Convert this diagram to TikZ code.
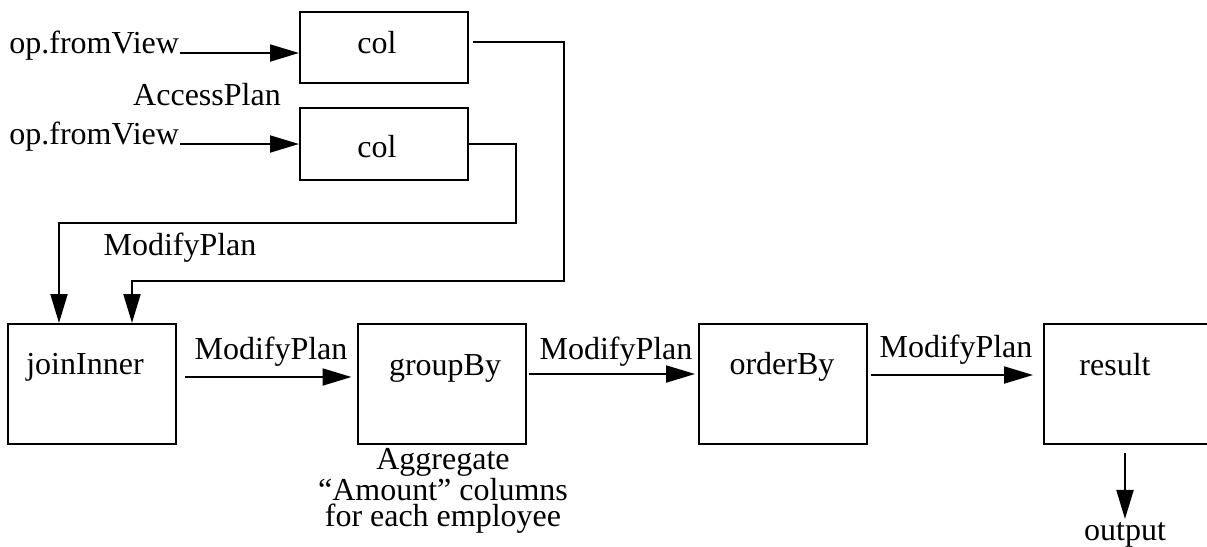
\documentclass[tikz,border=0pt]{standalone}
\usepackage{fontspec}
\setmainfont{Liberation Serif}
\usetikzlibrary{arrows.meta,calc}
\begin{document}
\begin{tikzpicture}[x=0.5pt,y=-0.5pt,
  line width=1pt,
  box/.style={draw, line width=1pt, minimum width=84pt, minimum height=60pt, inner sep=0pt},
  txt/.style={font=\fontsize{16}{13}\selectfont, inner sep=0pt},
  arr/.style={-{Triangle[length=14.5pt,width=8.5pt]}, line width=1pt},
]
\useasboundingbox (0,0) rectangle (1207,547);
% top boxes
\node[box, minimum height=35.5pt] (col1) at (384,47.5) {};
\node[box, minimum height=36pt] (col2) at (384,144) {};
\node[txt] (col1t) at (377,43) {col};
\node[txt] (col2t) at (377,147) {col};
% inputs
\node[txt, anchor=base east] (opA) at (180,53) {op.fromView};
\node[txt, anchor=base east] (opB) at (180,144) {op.fromView};
\node[txt] (access) at (207,95) {AccessPlan};
\draw[arr] (opA.base east) -- (opA.base east -| col1.west);
\draw[arr] (opB.base east) -- (opB.base east -| col2.west);
% bottom boxes
\node[box] (join) at (92,384) {};
\node[box] (group) at (441.5,384) {};
\node[box] (order) at (783,384) {};
\node[box] (result) at (1128,384) {};
\node[txt] (joint) at (85,367) {joinInner};
\node[txt] (groupt) at (445,368) {groupBy};
\node[txt] (ordert) at (782,367) {orderBy};
\node[txt] (resultt) at (1115,365) {result};
% connectors from col boxes
\coordinate (r1) at (564,281);
\coordinate (r2) at (516,223);
\draw[arr] ($(col1.east)+(4,-5.5)$) -| (r1) -| ($(join.north west)+(125,0)$);
\draw[arr] (col2.east) -| (r2) -| ($(join.north west)+(52,0)$);
\node[txt] (mp0) at (180,248) {ModifyPlan};
% bottom flow
\draw[arr] ($(join.east)+(8,-7)$) -- ($(group.west)+(-5,-7)$);
\draw[arr] ($(group.east)+(2,-10)$) -- ($(order.west)+(-3,-10)$);
\draw[arr] ($(order.east)+(3,-9)$) -- ($(result.west)+(-10,-9)$);
\node[txt] (mp1) at (271,352) {ModifyPlan};
\node[txt] (mp2) at (616,352) {ModifyPlan};
\node[txt] (mp3) at (956,350) {ModifyPlan};
\node[txt, anchor=base] (output) at (1125,540) {output};
\draw[arr] ([yshift=-4pt]output.north |- result.south) -- ([yshift=1pt]output.north);
\node[txt, align=center] (agg) at (443,491) {Aggregate\\“Amount” columns\\for each employee};
\end{tikzpicture}
\end{document}
